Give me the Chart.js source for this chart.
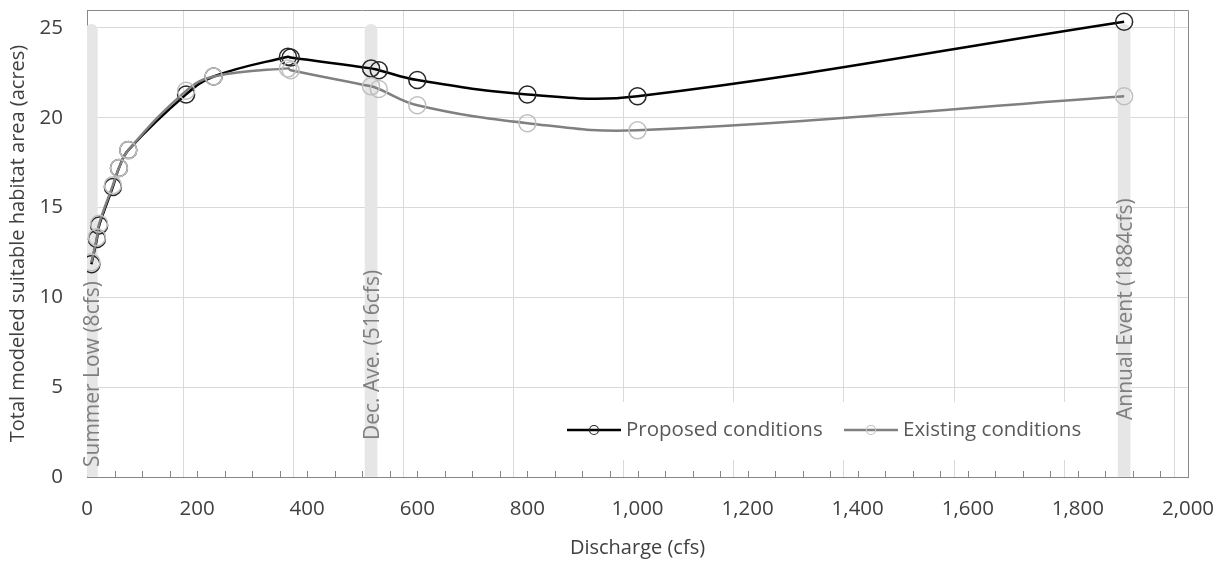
<!DOCTYPE html>
<html>
<head>
<meta charset="utf-8">
<script src="https://cdn.jsdelivr.net/npm/chart.js@4.4.0/dist/chart.umd.min.js"></script>
<style>
html,body{margin:0;padding:0;background:#ffffff;}
#wrap{width:1225px;height:562px;}
</style>
</head>
<body>
<div id="wrap"><canvas id="c" width="1225" height="562"></canvas></div>
<script>
// ---- data ----
const dischargeCfs = [8, 18, 22, 47, 58, 75, 180, 230, 365, 370, 516, 530, 600, 800, 1000, 1884];
const proposedAcres = [11.85, 13.25, 14.0, 16.15, 17.2, 18.2, 21.3, 22.3, 23.4, 23.35, 22.75, 22.65, 22.1, 21.3, 21.2, 25.35];
const existingAcres = [11.95, 13.35, 14.1, 16.25, 17.2, 18.2, 21.5, 22.3, 22.75, 22.65, 21.75, 21.6, 20.7, 19.7, 19.3, 21.2];
const seriesNames = ['Proposed conditions', 'Existing conditions'];
const markerCfs = [8, 516, 1884];
const markerTop = [25.2, 25.2, 25.2];
const markerLabels = ['Summer Low (8cfs)', 'Dec. Ave. (516cfs)', 'Annual Event (1884cfs)'];
const xTickStep = 50;
const xLabelStep = 200;
const yTickStep = 5;
const xTitle = 'Discharge (cfs)';
const yTitle = 'Total modeled suitable habitat area (acres)';

// ---- styles ----
const FONT = "'Open Sans', 'Liberation Sans', sans-serif";
const AXIS_TXT = '#404040';
const GRID = '#d9d9d9';
const BORDER = '#898989';
const labelLift = [10, 37, 57]; // px above the axis where each marker label starts

const frame = {
  id: 'frame',
  beforeDatasetsDraw(chart) {
    const {ctx, chartArea: a, scales: {x}} = chart;
    ctx.save();
    ctx.strokeStyle = BORDER;
    ctx.lineWidth = 1;
    ctx.beginPath();
    ctx.moveTo(a.left, a.top + 0.5); ctx.lineTo(a.right + 0.5, a.top + 0.5);
    ctx.lineTo(a.right + 0.5, a.bottom);
    ctx.stroke();
    // inside minor tick marks
    ctx.strokeStyle = '#868686';
    ctx.beginPath();
    for (let v = xTickStep; v < 2000; v += xTickStep) {
      const px = Math.round(x.getPixelForValue(v)) + 0.5;
      ctx.moveTo(px, a.bottom); ctx.lineTo(px, a.bottom - 6);
    }
    ctx.stroke();
    ctx.restore();
  },
  afterDatasetsDraw(chart) {
    const {ctx, chartArea: a, scales: {x, y}} = chart;
    ctx.save();
    // marker labels inside grey bands
    ctx.fillStyle = '#7f7f7f';
    ctx.font = `21px ${FONT}`;
    ctx.textAlign = 'left';
    ctx.textBaseline = 'middle';
    markerCfs.forEach((v, i) => {
      const px = x.getPixelForValue(v) + 2;
      const py = y.getPixelForValue(0) - labelLift[i];
      ctx.save();
      ctx.translate(px, py);
      ctx.rotate(-Math.PI / 2);
      ctx.fillText(markerLabels[i], 0, 0);
      ctx.restore();
    });
    // legend inside plot
    const ly = a.bottom - 47;
    ctx.fillStyle = '#ffffff';
    ctx.fillRect(555, ly - 28, 540, 58);
    const items = [
      {x0: 567, line: '#000000', lw: 2.5, ring: '#262626', tx: 626, name: seriesNames[0]},
      {x0: 844, line: '#808080', lw: 2.5, ring: '#c0c0c0', tx: 903, name: seriesNames[1]}
    ];
    items.forEach(it => {
      ctx.strokeStyle = it.line; ctx.lineWidth = it.lw;
      ctx.beginPath(); ctx.moveTo(it.x0, ly); ctx.lineTo(it.x0 + 54, ly); ctx.stroke();
      ctx.strokeStyle = it.ring; ctx.lineWidth = 1.2;
      ctx.beginPath(); ctx.arc(it.x0 + 27, ly, 4.5, 0, Math.PI * 2); ctx.stroke();
      ctx.fillStyle = '#595959';
      ctx.font = `20.5px ${FONT}`;
      ctx.textAlign = 'left'; ctx.textBaseline = 'middle';
      ctx.fillText(it.name, it.tx, ly);
    });
    ctx.restore();
  }
};

const toPts = (xs, ys) => xs.map((v, i) => ({x: v, y: ys[i]}));

new Chart(document.getElementById('c'), {
  type: 'line',
  data: {
    datasets: [
      {
        label: seriesNames[0],
        data: toPts(dischargeCfs, proposedAcres),
        borderColor: '#000000', borderWidth: 2.5,
        pointRadius: 8.5, pointBorderColor: '#262626', pointBorderWidth: 1.5,
        pointBackgroundColor: 'rgba(0,0,0,0)', tension: 0.4, order: 2
      },
      {
        label: seriesNames[1],
        data: toPts(dischargeCfs, existingAcres),
        borderColor: '#808080', borderWidth: 2.5,
        pointRadius: 8.5, pointBorderColor: '#c0c0c0', pointBorderWidth: 1.5,
        pointBackgroundColor: 'rgba(0,0,0,0)', tension: 0.4, order: 1
      },
      {
        type: 'bar',
        label: 'markers',
        data: toPts(markerCfs, markerTop),
        backgroundColor: '#e6e6e6',
        barThickness: 12,
        borderRadius: {topLeft: 6, topRight: 6, bottomLeft: 0, bottomRight: 0},
        borderSkipped: false,
        order: 3
      }
    ]
  },
  options: {
    responsive: false,
    animation: false,
    devicePixelRatio: 1,
    layout: {padding: {top: 10, right: 37, left: 0, bottom: 0}},
    plugins: {legend: {display: false}, tooltip: {enabled: false}},
    scales: {
      x: {
        type: 'linear', min: 0, max: 2000, offset: false,
        afterFit: s => { s.height = 85; s.paddingLeft = 0; s.paddingRight = 0; },
        ticks: {
          stepSize: xTickStep, autoSkip: false, maxRotation: 0, padding: 20,
          color: AXIS_TXT, font: {family: FONT, size: 20.5},
          callback: v => (v % xLabelStep === 0 ? v.toLocaleString('en-US') : '')
        },
        grid: {
          drawTicks: false,
          color: c => (c.tick && c.tick.value % xLabelStep === 0 ? GRID : 'rgba(0,0,0,0)')
        },
        border: {display: true, color: '#868686', width: 1},
        title: {display: true, text: xTitle, color: AXIS_TXT, font: {family: FONT, size: 20}, padding: {top: 0, bottom: 2}}
      },
      y: {
        min: 0, max: 26,
        afterFit: s => { s.width = 87; s.paddingTop = 0; s.paddingBottom = 0; },
        ticks: {stepSize: yTickStep, includeBounds: false, padding: 24, color: AXIS_TXT, font: {family: FONT, size: 20.5}},
        grid: {drawTicks: false, color: GRID},
        border: {display: true, color: BORDER, width: 1},
        title: {display: true, text: yTitle, color: AXIS_TXT, font: {family: FONT, size: 20}, padding: {top: 6, bottom: 0}}
      }
    }
  },
  plugins: [frame]
});
</script>
</body>
</html>
